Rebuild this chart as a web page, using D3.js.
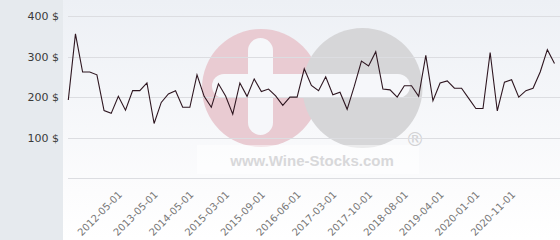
<!DOCTYPE html>
<html>
<head>
<meta charset="utf-8">
<script src="https://cdn.jsdelivr.net/npm/d3@7"></script>
<style>
  html, body { margin: 0; padding: 0; background: #ffffff; }
  svg { display: block; }
</style>
</head>
<body>
<svg id="chart" width="560" height="240"></svg>
<script>
// ---- data ----
const prices = [
  193, 356, 262, 262, 255, 167, 160, 202, 168, 216,
  216, 235, 135, 187, 208, 216, 175, 175, 255, 202,
  175, 233, 203, 158, 235, 202, 245, 214, 220, 203,
  180, 200, 200, 270, 229, 216, 250, 206, 212, 170,
  227, 289, 277, 312, 220, 218, 200, 228, 228, 202,
  303, 191, 235, 240, 222, 222, 197, 172, 172, 310,
  166, 237, 243, 200, 216, 222, 262, 317, 283
];
const tickLabels = [
  "2012-05-01", "2013-05-01", "2014-05-01", "2015-03-01", "2015-09-01", "2016-06-01",
  "2017-03-01", "2017-10-01", "2018-08-01", "2019-04-01", "2020-01-01", "2020-11-01"
];
const tickFirstIndex = 7;   // category index of the first labelled point
const tickStep = 5;         // every 5th point is labelled
const yTicks = [0, 100, 200, 300, 400];
const yLabelTicks = [100, 200, 300, 400];
const currency = "$";

// ---- layout ----
const W = 560, H = 240;
const panelW = 63;
const plot = { left: 68.3, right: 554.5, top: 16, bottom: 178.3, gridRight: 560 };

const svg = d3.select("#chart");
const defs = svg.append("defs");
const grad = defs.append("linearGradient").attr("id", "bg").attr("x1", 0).attr("y1", 0).attr("x2", 0).attr("y2", 1);
grad.append("stop").attr("offset", "0%").attr("stop-color", "#edf0f5");
grad.append("stop").attr("offset", "80%").attr("stop-color", "#fcfcfd");
grad.append("stop").attr("offset", "100%").attr("stop-color", "#ffffff");

// backgrounds
svg.append("rect").attr("x", panelW).attr("y", 0).attr("width", W - panelW).attr("height", H).attr("fill", "url(#bg)");
svg.append("rect").attr("x", 0).attr("y", 0).attr("width", panelW).attr("height", H).attr("fill", "#e6eaee");

// scales
const x = d3.scalePoint().domain(d3.range(prices.length)).range([plot.left, plot.right]);
const y = d3.scaleLinear().domain([0, 400]).range([plot.bottom, plot.top]);

// ---- watermark ----
const wm = svg.append("g").attr("class", "watermark");
wm.append("circle").attr("cx", 261).attr("cy", 88).attr("r", 59).attr("fill", "#e9cbd2");
wm.append("circle").attr("cx", 362.5).attr("cy", 88).attr("r", 60).attr("fill", "#d6d6d8");
wm.append("rect").attr("x", 248).attr("y", 38).attr("width", 25).attr("height", 97).attr("rx", 12.5)
  .attr("fill", "#f6f7fa");
wm.append("rect").attr("x", 212).attr("y", 74).attr("width", 198).attr("height", 24).attr("rx", 12)
  .attr("fill", "#f6f7fa");
wm.append("rect").attr("x", 197).attr("y", 145).attr("width", 222).attr("height", 29)
  .attr("fill", "#ffffff").attr("opacity", 0.5);
wm.append("text").attr("x", 312).attr("y", 166).attr("text-anchor", "middle")
  .attr("font-family", "'Liberation Sans', Arial, sans-serif").attr("font-weight", "bold")
  .attr("font-size", 15).attr("fill", "#d8d8da").text("www.Wine-Stocks.com");
wm.append("text").attr("x", 415).attr("y", 146).attr("text-anchor", "middle")
  .attr("font-family", "'DejaVu Sans', sans-serif")
  .attr("font-size", 19).attr("fill", "#d2d2d4").text("®");

// ---- grid + y axis ----
const gridG = svg.append("g").attr("transform", `translate(${plot.gridRight},0)`)
  .call(d3.axisLeft(y).tickValues(yTicks).tickSize(plot.gridRight - plot.left).tickFormat(""));
gridG.select(".domain").remove();
gridG.selectAll("line").attr("stroke", "#dcdde1").attr("stroke-width", 1).attr("shape-rendering", "crispEdges");

const yAxisG = svg.append("g").attr("transform", `translate(59,0)`)
  .call(d3.axisLeft(y).tickValues(yLabelTicks).tickSize(0).tickPadding(0)
    .tickFormat(d => `${d} ${currency}`));
yAxisG.select(".domain").remove();
yAxisG.selectAll("text").attr("font-family", "'DejaVu Sans', Verdana, sans-serif")
  .attr("font-size", 11).attr("fill", "#3a3a3a");

// ---- x axis labels ----
const tickIdx = tickLabels.map((_, i) => tickFirstIndex + i * tickStep);
const xAxisG = svg.append("g").attr("transform", `translate(0,${plot.bottom})`)
  .call(d3.axisBottom(x).tickValues(tickIdx).tickSize(0)
    .tickFormat(d => tickLabels[(d - tickFirstIndex) / tickStep]));
xAxisG.select(".domain").remove();
xAxisG.selectAll("text")
  .attr("font-family", "'DejaVu Sans', Verdana, sans-serif").attr("font-size", 10).attr("fill", "#777777")
  .attr("text-anchor", "end").attr("dy", null).attr("y", 0)
  .attr("transform", "translate(4,17) rotate(-45)");

// ---- line ----
const line = d3.line().x((d, i) => x(i)).y(d => y(d));
svg.append("path").datum(prices).attr("d", line)
  .attr("fill", "none").attr("stroke", "#2e1620").attr("stroke-width", 1.1)
  .attr("stroke-linejoin", "miter");
</script>
</body>
</html>
